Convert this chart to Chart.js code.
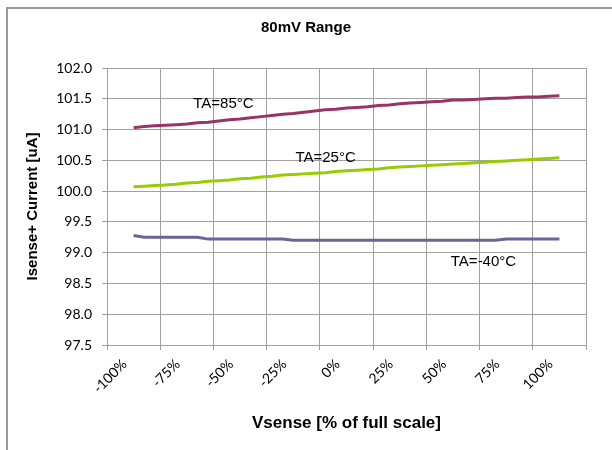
<!DOCTYPE html>
<html>
<head>
<meta charset="utf-8">
<script src="https://cdn.jsdelivr.net/npm/chart.js@4.4.1/dist/chart.umd.min.js"></script>
<style>
  html, body { margin: 0; padding: 0; background: #fff; }
  #chart1 { display: block; }
</style>
</head>
<body>
<canvas id="chart1" width="612" height="450"></canvas>
<script>
// Vsense in % of full scale
const vsense = [-100, -95, -90, -85, -80, -75, -70, -65, -60, -55, -50, -45, -40, -35, -30, -25, -20, -15, -10, -5,
  0, 5, 10, 15, 20, 25, 30, 35, 40, 45, 50, 55, 60, 65, 70, 75, 80, 85, 90, 95, 100];

// Isense+ current [uA] per temperature
const ta85 = [101.03, 101.05, 101.06, 101.07, 101.08, 101.09, 101.11, 101.12, 101.14, 101.16,
  101.17, 101.19, 101.21, 101.23, 101.25, 101.26, 101.28, 101.30, 101.32, 101.33,
  101.35, 101.36, 101.37, 101.39, 101.40, 101.42, 101.43, 101.44, 101.45, 101.46,
  101.48, 101.48, 101.49, 101.50, 101.51, 101.51, 101.52, 101.53, 101.53, 101.54, 101.55];
const ta25 = [100.07, 100.08, 100.09, 100.10, 100.11, 100.13, 100.14, 100.16, 100.17, 100.18,
  100.20, 100.21, 100.23, 100.24, 100.26, 100.27, 100.28, 100.29, 100.30, 100.32,
  100.33, 100.34, 100.35, 100.36, 100.38, 100.39, 100.40, 100.41, 100.42, 100.43,
  100.44, 100.45, 100.46, 100.47, 100.48, 100.49, 100.50, 100.51, 100.52, 100.53, 100.54];
const taM40 = [99.28, 99.25, 99.25, 99.25, 99.25, 99.25, 99.25, 99.22, 99.22, 99.22,
  99.22, 99.22, 99.22, 99.22, 99.22, 99.20, 99.20, 99.20, 99.20, 99.20,
  99.20, 99.20, 99.20, 99.20, 99.20, 99.20, 99.20, 99.20, 99.20, 99.20,
  99.20, 99.20, 99.20, 99.20, 99.20, 99.22, 99.22, 99.22, 99.22, 99.22, 99.22];

const xTicks = [-100, -75, -50, -25, 0, 25, 50, 75, 100];
const yTicks = [97.5, 98.0, 98.5, 99.0, 99.5, 100.0, 100.5, 101.0, 101.5, 102.0];

// curve labels: text, x (%), y (uA)
const curveLabels = [
  { text: 'TA=85°C', x: -72, y: 101.42 },
  { text: 'TA=25°C', x: -24, y: 100.54 },
  { text: 'TA=-40°C', x: 49, y: 98.85 }
];

const gridColor = '#a0a0a0';

const toPoints = vals => vsense.map((v, i) => ({ x: v, y: vals[i] }));

// frame, title and curve labels
const decor = {
  id: 'decor',
  beforeDraw(chart) {
    const ctx = chart.ctx;
    ctx.save();
    ctx.strokeStyle = '#9a9a9a';
    ctx.lineWidth = 2;
    ctx.strokeRect(7, 8, 640, 480);
    ctx.restore();
  },
  afterDraw(chart) {
    const ctx = chart.ctx;
    const xs = chart.scales.x, ys = chart.scales.y;
    ctx.save();
    ctx.fillStyle = '#000';
    ctx.textAlign = 'center';
    ctx.textBaseline = 'middle';
    ctx.font = 'bold 15px "Liberation Sans", Arial, sans-serif';
    ctx.fillText('80mV Range', 306, 28);
    ctx.font = '15px "Liberation Sans", Arial, sans-serif';
    ctx.textAlign = 'left';
    curveLabels.forEach(l => {
      ctx.fillText(l.text, xs.getPixelForValue(l.x), ys.getPixelForValue(l.y));
    });
    ctx.restore();
  }
};

new Chart(document.getElementById('chart1').getContext('2d'), {
  type: 'line',
  data: {
    datasets: [
      { label: 'TA=85°C', data: toPoints(ta85), borderColor: '#993366' },
      { label: 'TA=25°C', data: toPoints(ta25), borderColor: '#99cc00' },
      { label: 'TA=-40°C', data: toPoints(taM40), borderColor: '#666699' }
    ]
  },
  options: {
    responsive: false,
    animation: false,
    layout: { padding: { left: 0, right: 26, top: 68, bottom: 0 } },
    elements: {
      line: { borderWidth: 3, tension: 0 },
      point: { radius: 0 }
    },
    plugins: {
      legend: { display: false },
      tooltip: { enabled: false },
      title: { display: false }
    },
    scales: {
      x: {
        type: 'linear',
        min: -112.5,
        max: 112.5,
        afterBuildTicks: axis => { axis.ticks = xTicks.map(v => ({ value: v })); },
        afterFit: axis => { axis.height = 105; },
        grid: { color: gridColor, offset: true, tickLength: 5 },
        border: { color: gridColor },
        ticks: {
          minRotation: 45,
          maxRotation: 45,
          padding: 6,
          labelOffset: -9,
          color: '#000',
          font: { family: 'Lato', size: 14 },
          callback: v => v + '%'
        },
        title: {
          display: true,
          text: 'Vsense [% of full scale]',
          color: '#000',
          font: { family: '"Liberation Sans", Arial', size: 17, weight: 'bold' },
          padding: { top: 0, bottom: 16 }
        }
      },
      y: {
        min: 97.5,
        max: 102,
        afterBuildTicks: axis => { axis.ticks = yTicks.map(v => ({ value: v })); },
        afterFit: axis => { axis.width = 107; },
        grid: { color: gridColor, tickLength: 5 },
        border: { color: gridColor },
        ticks: {
          padding: 10,
          color: '#000',
          font: { family: 'Lato', size: 14 },
          callback: v => v.toFixed(1)
        },
        title: {
          display: true,
          text: 'Isense+ Current [uA]',
          color: '#000',
          font: { family: '"Liberation Sans", Arial', size: 15, weight: 'bold' },
          padding: { top: 24, bottom: 0 }
        }
      }
    }
  },
  plugins: [decor]
});
</script>
</body>
</html>
